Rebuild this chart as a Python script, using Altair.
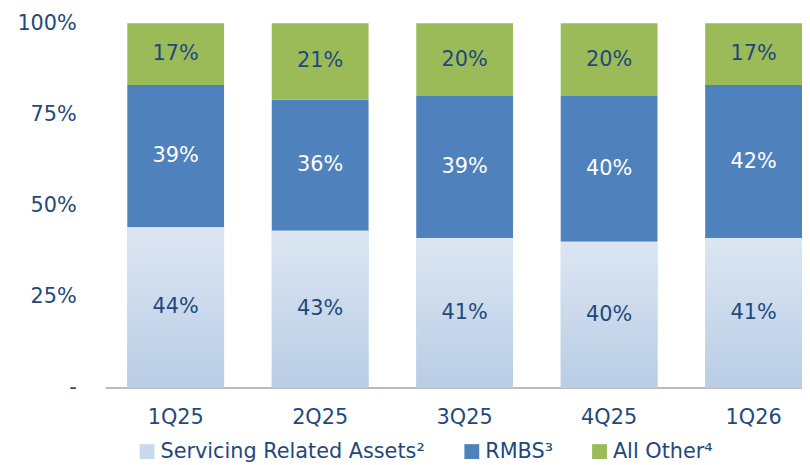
import altair as alt
import pandas as pd

quarters = ["1Q25", "2Q25", "3Q25", "4Q25", "1Q26"]
series = ["Servicing Related Assets²", "RMBS³", "All Other⁴"]
servicing = [44, 43, 41, 40, 41]
rmbs = [39, 36, 39, 40, 42]
other = [17, 21, 20, 20, 17]

colors = ["#C9D9EC", "#4F81BD", "#9BBB59"]
text_col = "#1F497D"
FONT = "DejaVu Sans"
FS = 21

rows = []
for i, q in enumerate(quarters):
    for k, (s, vals) in enumerate(zip(series, [servicing, rmbs, other])):
        rows.append({"quarter": q, "series": s, "order": k, "value": vals[i]})
df = pd.DataFrame(rows)

base = alt.Chart(df).transform_stack(
    stack="value", groupby=["quarter"], as_=["y0", "y1"],
    sort=[alt.SortField("order", order="ascending")]
).transform_calculate(mid="(datum.y0 + datum.y1) / 2", lbl="datum.value + '%'")

xenc = alt.X("quarter:N", sort=quarters, title=None,
             scale=alt.Scale(paddingInner=0.33, paddingOuter=0.077, align=1.0),
             axis=alt.Axis(labelAngle=0, ticks=False, domain=True, domainColor="#A6A6A6",
                           domainWidth=1.5, labelFontSize=FS, labelFont=FONT,
                           labelColor=text_col, labelPadding=19))
yscale = alt.Scale(domain=[0, 100], nice=False)

bars = base.mark_bar().encode(
    x=xenc,
    y=alt.Y("y0:Q", scale=yscale, title=None,
            axis=alt.Axis(values=[0, 25, 50, 75, 100], grid=False, domain=False, ticks=False,
                          labelFontSize=FS, labelFont=FONT, labelColor=text_col, labelPadding=29,
                          labelExpr="datum.value == 0 ? '-' : datum.value + '%'")),
    y2="y1:Q",
    color=alt.Color("series:N", sort=series,
                    scale=alt.Scale(domain=series, range=colors),
                    legend=alt.Legend(title=None, orient="none", direction="horizontal",
                                      legendX=32, legendY=422, symbolType="square",
                                      symbolSize=225, symbolStrokeWidth=0, labelFontSize=FS,
                                      labelFont=FONT, labelColor=text_col, labelOffset=3,
                                      labelLimit=400, columnPadding=36, padding=0)),
)

grad = base.transform_filter(alt.datum.order == 0).mark_bar(
    color=alt.Gradient(gradient="linear", x1=0, y1=0, x2=0, y2=1,
                       stops=[alt.GradientStop(color="#DCE6F2", offset=0),
                              alt.GradientStop(color="#B9CDE5", offset=1)])
).encode(x=alt.X("quarter:N", sort=quarters), y="y0:Q", y2="y1:Q")

labels = base.mark_text(fontSize=FS, font=FONT).encode(
    x=alt.X("quarter:N", sort=quarters),
    y="mid:Q",
    text="lbl:N",
    color=alt.condition(alt.datum.order == 1, alt.value("white"), alt.value(text_col)),
)

chart = alt.layer(bars, grad, labels).properties(
    width=704, height=368,
    autosize=alt.AutoSizeParams(type="none"),
    padding={"left": 98, "top": 13, "right": 0, "bottom": 76},
).configure_view(stroke=None)

chart.save("out.html", embed_options={"renderer": "svg", "actions": False})
